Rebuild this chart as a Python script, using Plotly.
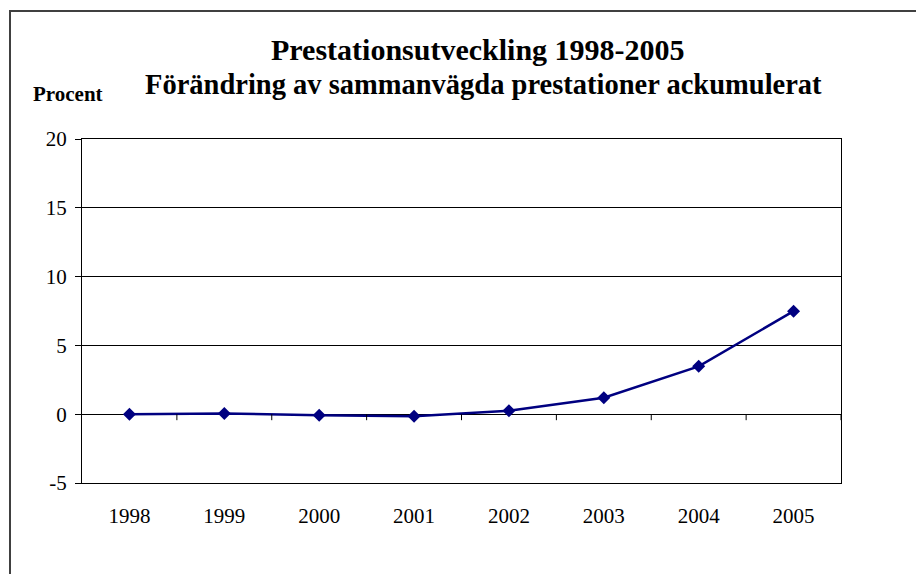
import plotly.graph_objects as go

years = ["1998", "1999", "2000", "2001", "2002", "2003", "2004", "2005"]
values = [0.0, 0.05, -0.07, -0.15, 0.25, 1.2, 3.48, 7.49]
y_ticks = [-5, 0, 5, 10, 15, 20]

# page body has an 8px margin: work in window pixels and shift
OX, OY = 8, 8
W, H = 924 - OX, 574 - OY
PL, PR, PT, PB = 82, 841, 139, 483  # plot area in window pixels
ML, MT = PL - OX, PT - OY
MR, MB = W - (PR - OX), H - (PB - OY)
PW = PR - PL
PH = PB - PT

FONT = "Liberation Serif, Times New Roman, serif"


def wx(px):
    return (px - PL) / PW


def wy(py):
    return (PB - py) / PH


fig = go.Figure()
fig.add_trace(go.Scatter(
    x=years, y=values, mode="lines+markers",
    line=dict(color="#000080", width=2.5),
    marker=dict(symbol="diamond", size=10, color="#000080"),
    showlegend=False, hoverinfo="x+y",
))

shapes = []
for i in range(len(years)):
    shapes.append(dict(
        type="line", xref="x", yref="y", ysizemode="pixel", yanchor=0,
        x0=i + 0.5, x1=i + 0.5, y0=0, y1=-6,
        line=dict(color="black", width=1),
    ))

shapes.append(dict(
    type="rect", xref="paper", yref="paper",
    x0=wx(10), x1=wx(960), y0=wy(620), y1=wy(11),
    line=dict(color="#404040", width=2), fillcolor="rgba(0,0,0,0)",
    layer="below",
))

annotations = [
    dict(text="<b>Prestationsutveckling 1998-2005</b>", xref="paper", yref="paper",
         x=wx(478), y=wy(60), showarrow=False,
         font=dict(family=FONT, size=30, color="black"), xanchor="center", yanchor="bottom",
         yshift=-8),
    dict(text="<b>Förändring av sammanvägda prestationer ackumulerat</b>", xref="paper", yref="paper",
         x=wx(483), y=wy(95), showarrow=False,
         font=dict(family=FONT, size=28.5, color="black"), xanchor="center", yanchor="bottom",
         yshift=-7),
    dict(text="<b>Procent</b>", xref="paper", yref="paper",
         x=wx(68), y=wy(103), showarrow=False,
         font=dict(family=FONT, size=21, color="black"), xanchor="center", yanchor="bottom",
         yshift=-5),
]

fig.update_layout(
    width=W, height=H,
    margin=dict(l=ML, r=MR, t=MT, b=MB, pad=0),
    paper_bgcolor="white", plot_bgcolor="white",
    font=dict(family=FONT, size=21, color="black"),
    shapes=shapes, annotations=annotations,
    xaxis=dict(
        type="category", categoryorder="array", categoryarray=years,
        range=[-0.5, len(years) - 0.5],
        showgrid=False, zeroline=False,
        showline=True, mirror=True, linecolor="black", linewidth=1,
        ticks="", ticklabelstandoff=14,
        tickfont=dict(family=FONT, size=21, color="black"),
    ),
    yaxis=dict(
        range=[-5, 20], tickvals=y_ticks, ticktext=[str(v) for v in y_ticks],
        showgrid=True, gridcolor="black", gridwidth=1,
        zeroline=True, zerolinecolor="black", zerolinewidth=1,
        showline=True, mirror=True, linecolor="black", linewidth=1,
        ticks="outside", ticklen=6, tickcolor="black",
        ticklabelstandoff=4,
        tickfont=dict(family=FONT, size=21, color="black"),
    ),
)

fig.write_html("out.html")
